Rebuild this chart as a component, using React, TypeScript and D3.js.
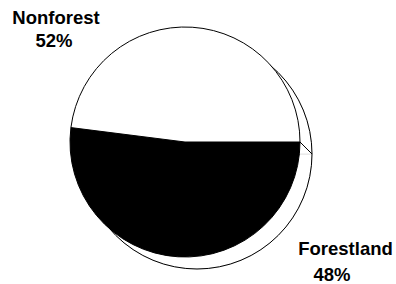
import React from 'react';
import * as d3 from 'd3';

// slice data, in drawing order (clockwise from 3 o'clock)
const categories = ['Nonforest', 'Forestland'];
const values = [52, 48];
const percentLabels = ['52%', '48%'];
const fills = ['#000000', '#ffffff'];

const W = 396;
const H = 284;
const cx = 185;
const cy = 142;
const r = 115;
const depth = 12;

// where each label's two lines sit
const labelLayout = [
  { name: [56, 24], pct: [54, 46.7] },
  { name: [345.5, 255], pct: [332, 281] },
];

export default function App() {
  const pie = d3.pie<number>()
    .sort(null)
    .value(d => d)
    .startAngle(Math.PI / 2)
    .endAngle(Math.PI / 2 + Math.PI * 2);
  const arcs = pie(values);
  const arc = d3.arc<d3.PieArcDatum<number>>().innerRadius(0).outerRadius(r);

  const a0 = arcs[0].startAngle;
  const ex = cx + r * Math.sin(a0);
  const ey = cy - r * Math.cos(a0);

  return (
    <svg width={W} height={H} style={{ position: 'absolute', left: 0, top: 0, background: '#fff' }}
      fontFamily="'Liberation Sans', Arial, sans-serif">
      {/* offset shadow of the pie */}
      <g transform={`translate(${cx + depth},${cy + depth})`}>
        {arcs.map((a, i) => (
          <path key={i} d={arc(a) || ''} fill="#fff" stroke="#e4e4e4" strokeWidth={1} />
        ))}
        <circle r={r} fill="none" stroke="#000" strokeWidth={1} />
      </g>
      <line x1={ex} y1={ey} x2={ex + depth} y2={ey + depth} stroke="#000" strokeWidth={1} />
      <g transform={`translate(${cx},${cy})`}>
        {arcs.map((a, i) => (
          <path key={i} d={arc(a) || ''} fill={fills[i]} stroke="#000" strokeWidth={1} />
        ))}
      </g>
      {categories.map((c, i) => (
        <g key={c} fontWeight="bold" fontSize={18.5} textAnchor="middle" fill="#000">
          <text x={labelLayout[i].name[0]} y={labelLayout[i].name[1]}>{c}</text>
          <text x={labelLayout[i].pct[0]} y={labelLayout[i].pct[1]}>{percentLabels[i]}</text>
        </g>
      ))}
    </svg>
  );
}
